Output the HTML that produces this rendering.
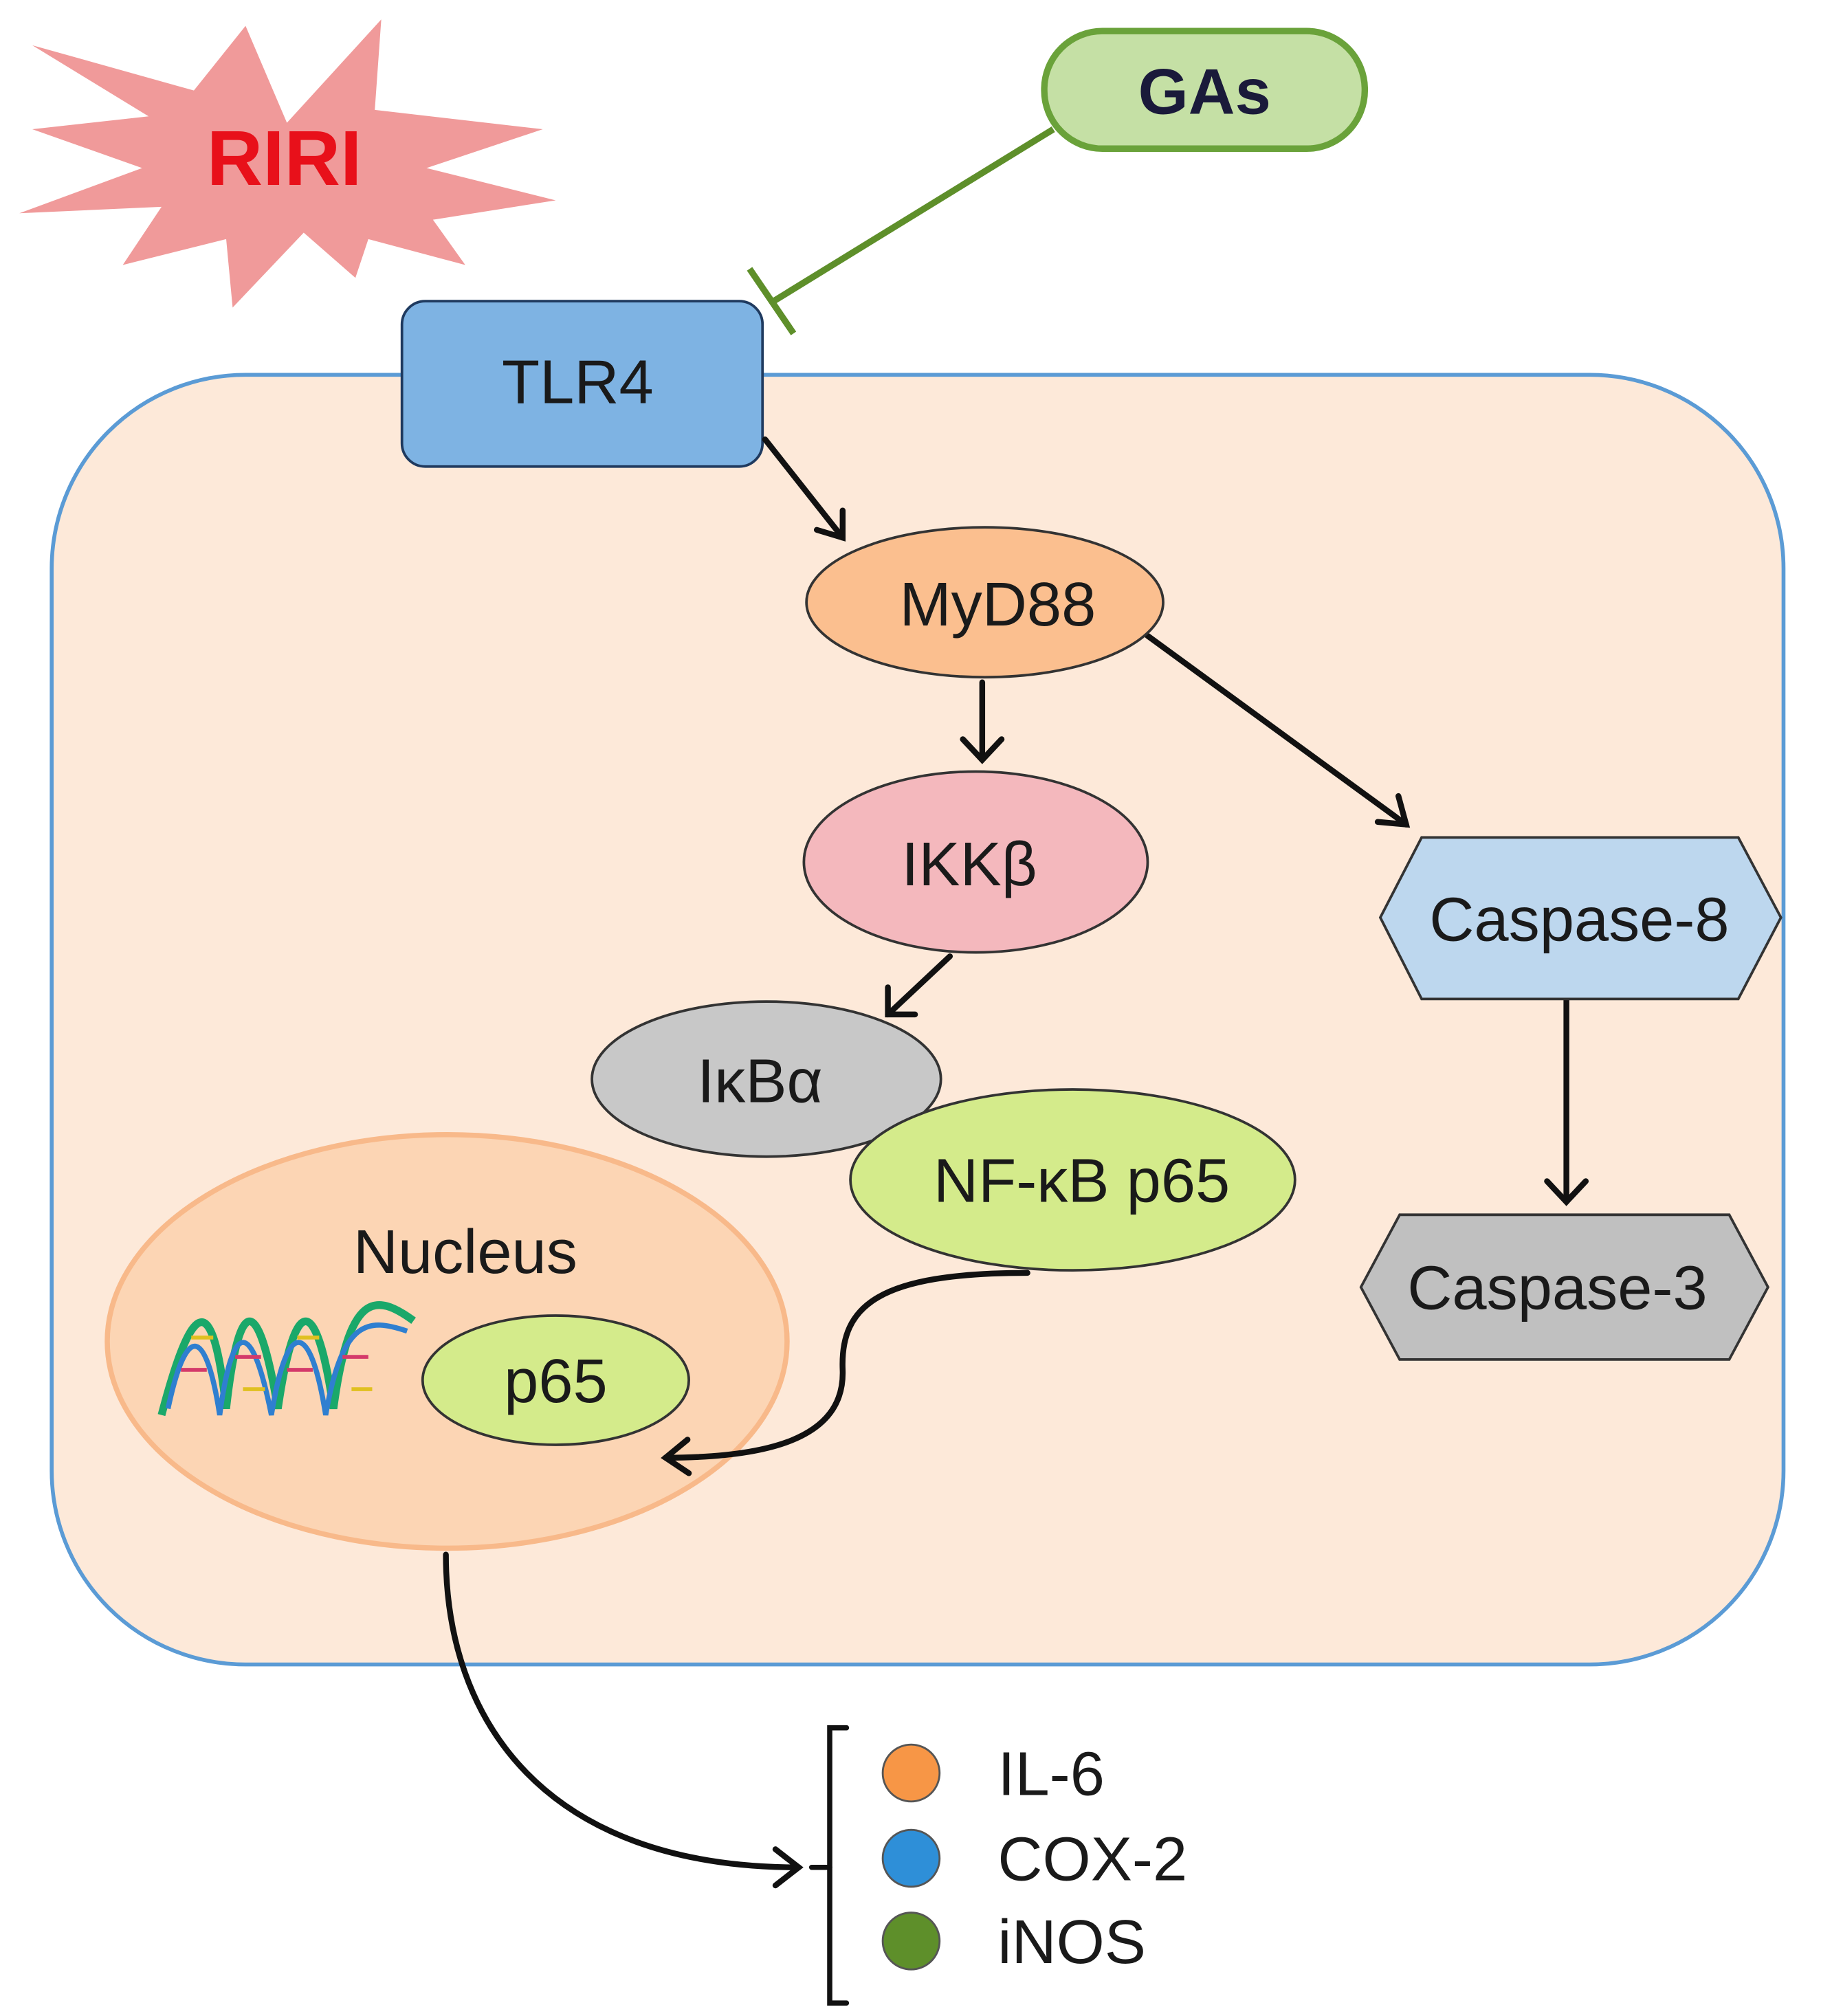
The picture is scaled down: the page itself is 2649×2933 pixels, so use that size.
<!DOCTYPE html>
<html><head><meta charset="utf-8"><style>
html,body{margin:0;padding:0;background:#fff;}
svg{display:block;}
text{font-family:"Liberation Sans",sans-serif;}
</style></head><body>
<svg width="2649" height="2933" viewBox="0 0 1409 1560" xmlns="http://www.w3.org/2000/svg">
<rect x="0" y="0" width="1409" height="1560" fill="#fff"/>
<!-- cell -->
<rect x="40" y="290" width="1340" height="998" rx="150" fill="#fde9d9" stroke="#5b9bd5" stroke-width="3"/>
<!-- RIRI star -->
<polygon points="222,95 295,15 290,85 420,100 330,130 430,155 335,170 360,205 285,185 275,215 235,180 180,238 175,185 95,205 125,160 15,165 110,130 25,100 115,90 25,35 150,70 190,20" fill="#f09a9a"/>
<text x="220" y="143" font-size="60" font-weight="bold" fill="#e8101a" text-anchor="middle">RIRI</text>
<!-- GAs -->
<rect x="808" y="24" width="248" height="91" rx="45" fill="#c5e0a5" stroke="#6aa23a" stroke-width="5"/>
<text x="932" y="88" font-size="50" font-weight="bold" fill="#1a1a3a" text-anchor="middle">GAs</text>
<line x1="815" y1="100" x2="597" y2="234" stroke="#5e8f2a" stroke-width="5"/>
<line x1="580" y1="208" x2="614" y2="258" stroke="#5e8f2a" stroke-width="5"/>
<!-- TLR4 -->
<rect x="311" y="233" width="279" height="128" rx="18" fill="#7eb3e3" stroke="#1f3a5f" stroke-width="2"/>
<text x="447" y="312" font-size="48" fill="#1a1a1a" text-anchor="middle">TLR4</text>
<!-- arrows -->
<g stroke="#111" stroke-width="4.5" fill="none" stroke-linecap="round">
<line x1="592" y1="340" x2="652" y2="416"/>
<polyline points="632,410 652,416 652,395"/>
<line x1="760" y1="528" x2="760" y2="588"/>
<polyline points="745,572 760,588 775,572"/>
<line x1="735" y1="740" x2="687" y2="785"/>
<polyline points="687,764 687,785 708,785"/>
<line x1="888" y1="492" x2="1088" y2="638"/>
<polyline points="1066,636 1088,638 1082,616"/>
<line x1="1212" y1="773" x2="1212" y2="930"/>
<polyline points="1197,914 1212,930 1227,914"/>
<path d="M345,1203 C345,1330 420,1445 618,1445"/>
<polyline points="600,1431 618,1445 600,1459"/>
<path d="M655,1337 H642 V1550 H655" stroke-width="4"/>
<line x1="628" y1="1445" x2="642" y2="1445" stroke-width="4"/>
</g>
<!-- MyD88 -->
<ellipse cx="762" cy="466" rx="138" ry="58" fill="#fbbf8f" stroke="#333" stroke-width="2"/>
<text x="772" y="484" font-size="48" fill="#1a1a1a" text-anchor="middle">MyD88</text>
<!-- IKKb -->
<ellipse cx="755" cy="667" rx="133" ry="70" fill="#f4b8bd" stroke="#333" stroke-width="2"/>
<text x="750" y="685" font-size="48" fill="#1a1a1a" text-anchor="middle">IKKβ</text>
<!-- IkBa -->
<ellipse cx="593" cy="835" rx="135" ry="60" fill="#c8c8c8" stroke="#333" stroke-width="2"/>
<text x="588" y="853" font-size="48" fill="#1a1a1a" text-anchor="middle">IκBα</text>
<!-- NF-kB p65 -->
<ellipse cx="830" cy="913" rx="172" ry="70" fill="#d4eb8b" stroke="#333" stroke-width="2"/>
<text x="837" y="930" font-size="48" fill="#1a1a1a" text-anchor="middle">NF-κB p65</text>
<!-- Nucleus -->
<ellipse cx="346" cy="1038" rx="263" ry="160" fill="#fcd5b4" stroke="#f8b98a" stroke-width="4"/>
<text x="360" y="985" font-size="48" fill="#1a1a1a" text-anchor="middle">Nucleus</text>
<!-- DNA -->
<g fill="none" stroke-width="6">
<path d="M125,1095 C150,1000 165,1000 175,1090 C185,1000 200,1000 215,1090 C228,1000 245,1000 258,1090 C270,1000 290,1000 320,1022" stroke="#1aa86a"/>
<path d="M130,1090 C145,1020 160,1030 170,1095 C180,1020 195,1020 210,1095 C222,1020 240,1020 252,1095 C265,1020 285,1020 315,1030" stroke="#2f7fd0" stroke-width="4"/>
<g stroke="#d43a6a" stroke-width="3">
<line x1="140" y1="1060" x2="160" y2="1060"/><line x1="182" y1="1050" x2="202" y2="1050"/><line x1="222" y1="1060" x2="242" y2="1060"/><line x1="265" y1="1050" x2="285" y2="1050"/>
</g>
<g stroke="#e0c020" stroke-width="3">
<line x1="148" y1="1035" x2="165" y2="1035"/><line x1="188" y1="1075" x2="205" y2="1075"/><line x1="230" y1="1035" x2="247" y2="1035"/><line x1="272" y1="1075" x2="288" y2="1075"/>
</g>
</g>
<!-- p65 -->
<ellipse cx="430" cy="1068" rx="103" ry="50" fill="#d4eb8b" stroke="#333" stroke-width="2"/>
<text x="430" y="1085" font-size="48" fill="#1a1a1a" text-anchor="middle">p65</text>
<g stroke="#111" stroke-width="4.5" fill="none" stroke-linecap="round">
<path d="M795,985 C680,985 650,1010 652,1060 C654,1115 590,1128 515,1128"/>
<polyline points="532,1114 515,1128 533,1140"/>
</g>
<!-- Caspase-8 -->
<polygon points="1068,710 1100,648 1345,648 1378,710 1345,773 1100,773" fill="#bdd7ee" stroke="#333" stroke-width="2"/>
<text x="1222" y="728" font-size="48" fill="#1a1a1a" text-anchor="middle">Caspase-8</text>
<!-- Caspase-3 -->
<polygon points="1053,996 1083,940 1338,940 1368,996 1338,1052 1083,1052" fill="#c0c0c0" stroke="#333" stroke-width="2"/>
<text x="1205" y="1013" font-size="48" fill="#1a1a1a" text-anchor="middle">Caspase-3</text>
<!-- legend -->
<circle cx="705" cy="1372" r="22" fill="#f79646" stroke="#555" stroke-width="1.5"/>
<circle cx="705" cy="1438" r="22" fill="#2e8fd8" stroke="#555" stroke-width="1.5"/>
<circle cx="705" cy="1502" r="22" fill="#5e8f2a" stroke="#555" stroke-width="1.5"/>
<text x="772" y="1389" font-size="48" fill="#1a1a1a">IL-6</text>
<text x="772" y="1455" font-size="48" fill="#1a1a1a">COX-2</text>
<text x="772" y="1519" font-size="48" fill="#1a1a1a">iNOS</text>
</svg>
</body></html>
